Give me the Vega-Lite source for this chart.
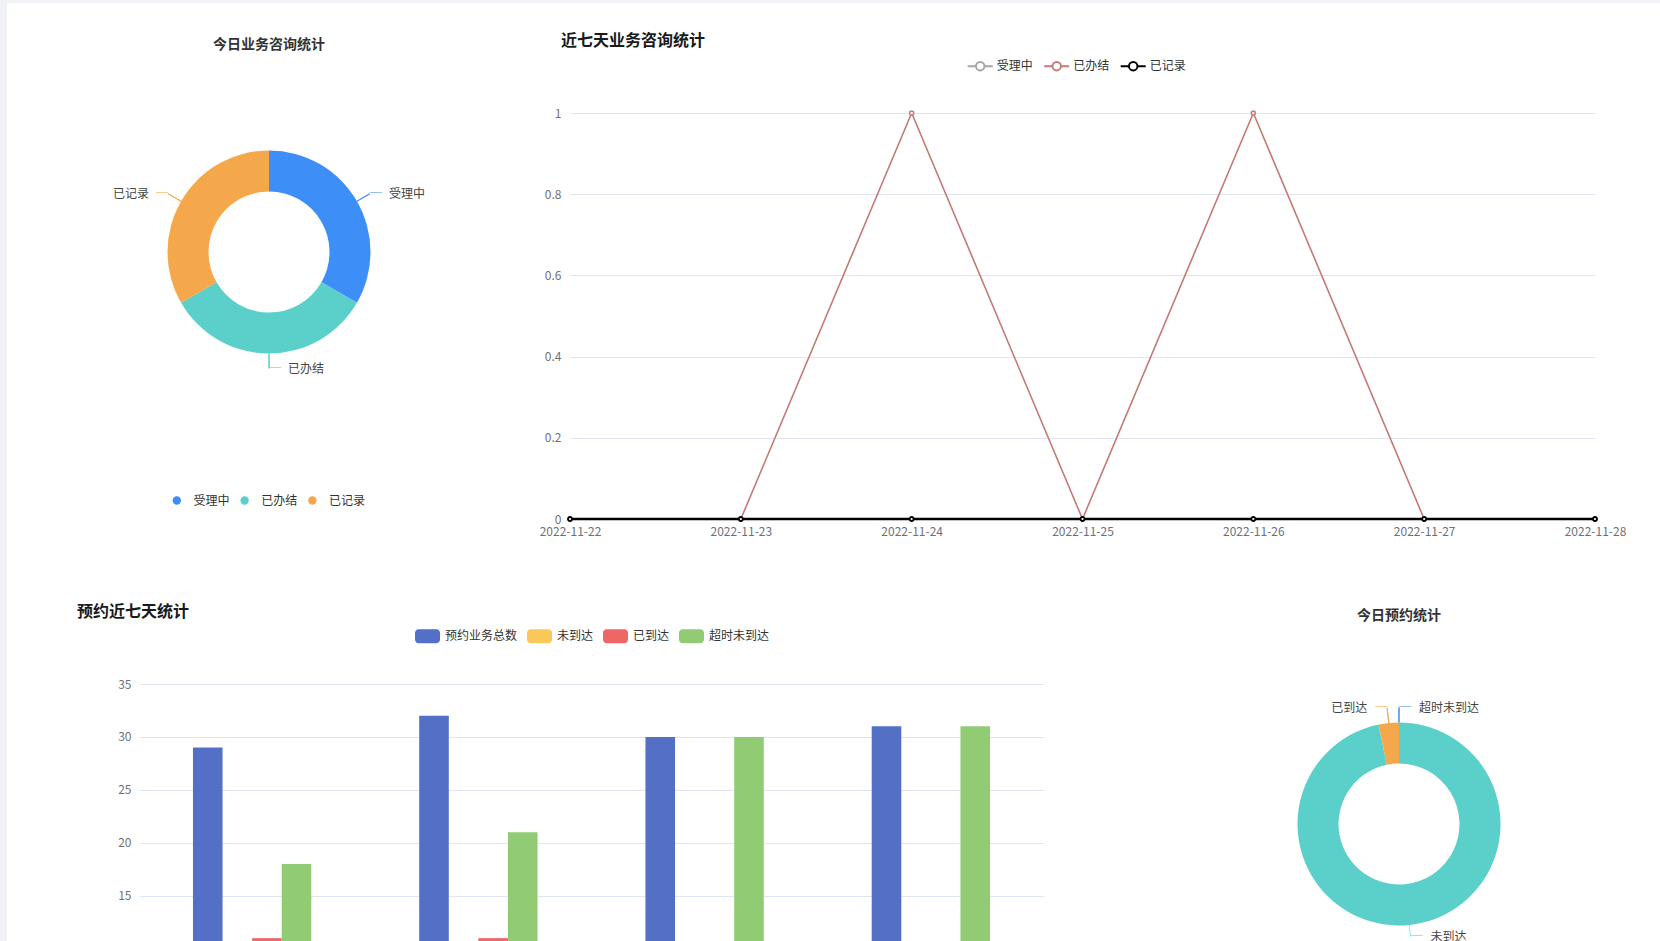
{
  "$schema": "https://vega.github.io/schema/vega-lite/v6.json",
  "background": "white",
  "padding": 0,
  "columns": 5,
  "spacing": 0,
  "align": "each",
  "bounds": "flush",
  "resolve": {
    "scale": {"color": "independent", "theta": "independent", "stroke": "independent", "fill": "independent", "xOffset": "independent"},
    "legend": {"color": "independent"}
  },
  "config": {
    "view": {"stroke": null},
    "font": "Noto Sans CJK SC",
    "axis": {"labelColor": "#6E7079", "labelFontSize": 12, "gridColor": "#E0E6F1", "ticks": false, "tickSize": 0, "domain": false},
    "legend": {"labelFontSize": 12, "labelColor": "#333333", "padding": 0, "title": null}
  },
  "concat": [
    {"width": 7, "height": 3, "view": {"fill": "#f0f2f5"}, "data": {"values": []}, "mark": {"type": "point", "opacity": 0}},
    {"width": 132, "height": 3, "view": {"fill": "#f0f2f5"}, "data": {"values": []}, "mark": {"type": "point", "opacity": 0}},
    {"width": 431, "height": 3, "view": {"fill": "#f0f2f5"}, "data": {"values": []}, "mark": {"type": "point", "opacity": 0}},
    {"width": 596, "height": 3, "view": {"fill": "#f0f2f5"}, "data": {"values": []}, "mark": {"type": "point", "opacity": 0}},
    {"width": 494, "height": 3, "view": {"fill": "#f0f2f5"}, "data": {"values": []}, "mark": {"type": "point", "opacity": 0}},

    {"width": 7, "height": 110, "view": {"fill": "#f0f2f5"}, "data": {"values": []}, "mark": {"type": "point", "opacity": 0}},
    {"width": 132, "height": 110, "data": {"values": []}, "mark": {"type": "point", "opacity": 0}},
    {"width": 1, "height": 1, "data": {"values": []}, "mark": {"type": "point", "opacity": 0}},
    {"width": 1, "height": 1, "data": {"values": []}, "mark": {"type": "point", "opacity": 0}},
    {"width": 1, "height": 1, "data": {"values": []}, "mark": {"type": "point", "opacity": 0}},

    {"width": 7, "height": 571, "view": {"fill": "#f0f2f5"}, "data": {"values": []}, "mark": {"type": "point", "opacity": 0}},
    {"width": 1, "height": 1, "data": {"values": []}, "mark": {"type": "point", "opacity": 0}},
    {
      "width": 260, "height": 278,
      "data": {"values": [
        {"状态": "受理中", "数量": 1, "序": 1},
        {"状态": "已办结", "数量": 1, "序": 2},
        {"状态": "已记录", "数量": 1, "序": 3}
      ]},
      "title": {"text": "今日业务咨询统计", "fontSize": 14, "fontWeight": "bold", "color": "#333333", "anchor": "middle", "frame": "group", "offset": 61.5},
      "encoding": {
        "theta": {"field": "数量", "type": "quantitative", "stack": true},
        "order": {"field": "序", "type": "quantitative"}
      },
      "layer": [
        {"mark": {"type": "arc", "radius": 101.5, "radius2": 60.5},
         "encoding": {"color": {"field": "状态", "type": "nominal",
           "scale": {"domain": ["受理中", "已办结", "已记录"], "range": ["#3e8ef7", "#5bcfc9", "#f5a84b"]},
           "legend": {"orient": "none", "legendX": 31.8, "legendY": 381.5, "direction": "horizontal", "symbolType": "circle", "symbolSize": 70, "symbolStrokeWidth": 0, "labelOffset": 10.6, "columnPadding": 8.8}}}},
        {"mark": {"type": "arc", "radius": 101.5, "radius2": 116.5, "padAngle": 3.14, "filled": false, "strokeWidth": 1},
         "encoding": {"stroke": {"field": "状态", "type": "nominal",
           "scale": {"domain": ["受理中", "已办结", "已记录"], "range": ["#3e8ef7", "#5bcfc9", "#f5a84b"]}, "legend": null}}},
        {"mark": {"type": "text", "radius": 116.5, "align": "left", "baseline": "middle", "fontSize": 12},
         "encoding": {
           "text": {"condition": {"test": "datum['状态'] != '已记录'", "value": "─"}, "value": ""},
           "fill": {"field": "状态", "type": "nominal", "scale": {"domain": ["受理中", "已办结", "已记录"], "range": ["#3e8ef7", "#5bcfc9", "#f5a84b"]}, "legend": null}}},
        {"mark": {"type": "text", "radius": 116.5, "align": "right", "baseline": "middle", "fontSize": 12},
         "encoding": {
           "text": {"condition": {"test": "datum['状态'] == '已记录'", "value": "─"}, "value": ""},
           "fill": {"field": "状态", "type": "nominal", "scale": {"domain": ["受理中", "已办结", "已记录"], "range": ["#3e8ef7", "#5bcfc9", "#f5a84b"]}, "legend": null}}},
        {"mark": {"type": "text", "radius": 116.5, "align": "left", "baseline": "middle", "dx": 19, "fontSize": 12, "color": "#444444"},
         "encoding": {"text": {"condition": {"test": "datum['状态'] != '已记录'", "field": "状态", "type": "nominal"}, "value": ""}}},
        {"mark": {"type": "text", "radius": 116.5, "align": "right", "baseline": "middle", "dx": -19, "fontSize": 12, "color": "#444444"},
         "encoding": {"text": {"condition": {"test": "datum['状态'] == '已记录'", "field": "状态", "type": "nominal"}, "value": ""}}}
      ]
    },
    {
      "width": 596, "height": 406,
      "data": {"values": [
        {"日期": "2022-11-22", "类型": "受理中", "数量": 0},
        {"日期": "2022-11-23", "类型": "受理中", "数量": 0},
        {"日期": "2022-11-24", "类型": "受理中", "数量": 0},
        {"日期": "2022-11-25", "类型": "受理中", "数量": 0},
        {"日期": "2022-11-26", "类型": "受理中", "数量": 0},
        {"日期": "2022-11-27", "类型": "受理中", "数量": 0},
        {"日期": "2022-11-28", "类型": "受理中", "数量": 0},
        {"日期": "2022-11-22", "类型": "已办结", "数量": 0},
        {"日期": "2022-11-23", "类型": "已办结", "数量": 0},
        {"日期": "2022-11-24", "类型": "已办结", "数量": 1},
        {"日期": "2022-11-25", "类型": "已办结", "数量": 0},
        {"日期": "2022-11-26", "类型": "已办结", "数量": 1},
        {"日期": "2022-11-27", "类型": "已办结", "数量": 0},
        {"日期": "2022-11-28", "类型": "已办结", "数量": 0},
        {"日期": "2022-11-22", "类型": "已记录", "数量": 0},
        {"日期": "2022-11-23", "类型": "已记录", "数量": 0},
        {"日期": "2022-11-24", "类型": "已记录", "数量": 0},
        {"日期": "2022-11-25", "类型": "已记录", "数量": 0},
        {"日期": "2022-11-26", "类型": "已记录", "数量": 0},
        {"日期": "2022-11-27", "类型": "已记录", "数量": 0},
        {"日期": "2022-11-28", "类型": "已记录", "数量": 0}
      ]},
      "title": {"text": "近七天业务咨询统计", "fontSize": 16, "fontWeight": "bold", "color": "#1a1a1a", "anchor": "start", "frame": "group", "dx": -9, "offset": 4},
      "encoding": {
        "x": {"field": "日期", "type": "ordinal", "scale": {"type": "point", "padding": 0, "range": [0, 1025]}, "axis": {"title": null, "labelAngle": 0, "labelPadding": 7, "grid": false}},
        "y": {"field": "数量", "type": "quantitative", "scale": {"domain": [0, 1], "nice": false}, "axis": {"title": null, "values": [0, 0.2, 0.4, 0.6, 0.8, 1], "format": "~g", "labelPadding": 9, "grid": true}},
        "color": {"field": "类型", "type": "nominal",
          "scale": {"domain": ["受理中", "已办结", "已记录"], "range": ["#a6a6a6", "#c47a76", "#000000"]},
          "legend": {"orient": "none", "legendX": 396.7, "legendY": -60.5, "direction": "horizontal",
            "symbolType": "M-1,0L-0.34,0M0.34,0L1,0M0.34,0A0.34,0.34,0,1,1,-0.34,0A0.34,0.34,0,1,1,0.34,0Z",
            "symbolSize": 625, "symbolStrokeWidth": 2, "labelOffset": 3, "columnPadding": 6.5,
            "encode": {"symbols": {"update": {"fill": {"value": "white"}, "strokeWidth": {"value": 2}}}}}}
      },
      "layer": [
        {"transform": [{"filter": "datum['类型'] == '受理中'"}],
         "mark": {"type": "line", "strokeWidth": 2, "point": {"filled": false, "fill": "white", "size": 16, "strokeWidth": 1.5}}},
        {"transform": [{"filter": "datum['类型'] == '已办结'"}],
         "mark": {"type": "line", "strokeWidth": 1.6, "point": {"filled": false, "fill": "white", "size": 16, "strokeWidth": 1.5}}},
        {"transform": [{"filter": "datum['类型'] == '已记录'"}],
         "mark": {"type": "line", "strokeWidth": 2.5, "point": {"filled": false, "fill": "white", "size": 16, "strokeWidth": 1.8}}}
      ]
    },
    {"width": 1, "height": 1, "data": {"values": []}, "mark": {"type": "point", "opacity": 0}},

    {"width": 7, "height": 257, "view": {"fill": "#f0f2f5"}, "data": {"values": []}, "mark": {"type": "point", "opacity": 0}},
    {"width": 1, "height": 1, "data": {"values": []}, "mark": {"type": "point", "opacity": 0}},
    {
      "width": 431, "height": 257,
      "data": {"values": [
        {"日期": "2022-11-25", "类型": "预约业务总数", "数量": 29},
        {"日期": "2022-11-25", "类型": "未到达", "数量": 0},
        {"日期": "2022-11-25", "类型": "已到达", "数量": 11},
        {"日期": "2022-11-25", "类型": "超时未到达", "数量": 18},
        {"日期": "2022-11-26", "类型": "预约业务总数", "数量": 32},
        {"日期": "2022-11-26", "类型": "未到达", "数量": 0},
        {"日期": "2022-11-26", "类型": "已到达", "数量": 11},
        {"日期": "2022-11-26", "类型": "超时未到达", "数量": 21},
        {"日期": "2022-11-27", "类型": "预约业务总数", "数量": 30},
        {"日期": "2022-11-27", "类型": "未到达", "数量": 0},
        {"日期": "2022-11-27", "类型": "已到达", "数量": 0},
        {"日期": "2022-11-27", "类型": "超时未到达", "数量": 30},
        {"日期": "2022-11-28", "类型": "预约业务总数", "数量": 31},
        {"日期": "2022-11-28", "类型": "未到达", "数量": 0},
        {"日期": "2022-11-28", "类型": "已到达", "数量": 0},
        {"日期": "2022-11-28", "类型": "超时未到达", "数量": 31}
      ]},
      "title": {"text": "预约近七天统计", "fontSize": 16, "fontWeight": "bold", "color": "#1a1a1a", "anchor": "start", "frame": "group", "dx": -62, "offset": 4},
      "mark": {"type": "bar"},
      "encoding": {
        "x": {"field": "日期", "type": "nominal", "sort": null, "scale": {"paddingInner": 0.477, "paddingOuter": 0.2385, "range": [0, 905]}, "axis": null},
        "xOffset": {"field": "类型", "type": "nominal", "scale": {"domain": ["预约业务总数", "未到达", "已到达", "超时未到达"], "paddingInner": 0, "paddingOuter": 0}},
        "y": {"field": "数量", "type": "quantitative", "scale": {"domain": [10.73, 35], "zero": false, "nice": false}, "axis": {"title": null, "values": [15, 20, 25, 30, 35], "labelPadding": 8, "grid": true}},
        "y2": {"datum": 10.73},
        "color": {"field": "类型", "type": "nominal",
          "scale": {"domain": ["预约业务总数", "未到达", "已到达", "超时未到达"], "range": ["#5470c6", "#fac858", "#ee6666", "#91cc75"]},
          "legend": {"orient": "none", "legendX": 276, "legendY": -60.5, "direction": "horizontal",
            "symbolType": "M-0.7,-0.56L0.7,-0.56A0.3,0.3,0,0,1,1,-0.26L1,0.26A0.3,0.3,0,0,1,0.7,0.56L-0.7,0.56A0.3,0.3,0,0,1,-1,0.26L-1,-0.26A0.3,0.3,0,0,1,-0.7,-0.56Z",
            "symbolSize": 625, "symbolStrokeWidth": 0, "labelOffset": 5, "columnPadding": 9}}
      }
    },
    {"width": 1, "height": 1, "data": {"values": []}, "mark": {"type": "point", "opacity": 0}},
    {
      "width": 466, "height": 257,
      "data": {"values": [
        {"状态": "超时未到达", "数量": 0, "序": 1},
        {"状态": "未到达", "数量": 30, "序": 2},
        {"状态": "已到达", "数量": 1, "序": 3}
      ]},
      "title": {"text": "今日预约统计", "fontSize": 14, "fontWeight": "bold", "color": "#333333", "anchor": "middle", "frame": "group", "offset": 60.8},
      "encoding": {
        "theta": {"field": "数量", "type": "quantitative", "stack": true},
        "order": {"field": "序", "type": "quantitative"}
      },
      "layer": [
        {"mark": {"type": "arc", "radius": 101.5, "radius2": 60.5, "yOffset": 11.5},
         "encoding": {"color": {"field": "状态", "type": "nominal",
           "scale": {"domain": ["超时未到达", "未到达", "已到达"], "range": ["#3e8ef7", "#5bcfc9", "#f5a84b"]}, "legend": null}}},
        {"mark": {"type": "arc", "radius": 101.5, "radius2": 116.5, "padAngle": 3.14, "filled": false, "strokeWidth": 1, "yOffset": 11.5},
         "encoding": {
           "stroke": {"field": "状态", "type": "nominal", "scale": {"domain": ["超时未到达", "未到达", "已到达"], "range": ["#3e8ef7", "#5bcfc9", "#f5a84b"]}, "legend": null},
           "strokeOpacity": {"condition": {"test": "datum['状态'] == '未到达'", "value": 0}, "value": 1}}},
        {"mark": {"type": "text", "radius": 108, "align": "center", "baseline": "middle", "fontSize": 13, "angle": -5.8, "color": "#5bcfc9", "clip": true, "yOffset": 11.5},
         "encoding": {"text": {"condition": {"test": "datum['状态'] == '未到达'", "value": "│"}, "value": ""}}},
        {"mark": {"type": "text", "radius": 116.5, "align": "left", "baseline": "middle", "fontSize": 12, "yOffset": 11.5},
         "encoding": {
           "text": {"condition": {"test": "datum['状态'] == '超时未到达'", "value": "─"}, "value": ""},
           "fill": {"field": "状态", "type": "nominal", "scale": {"domain": ["超时未到达", "未到达", "已到达"], "range": ["#3e8ef7", "#5bcfc9", "#f5a84b"]}, "legend": null}}},
        {"mark": {"type": "text", "radius": 116.5, "align": "right", "baseline": "middle", "fontSize": 12, "yOffset": 11.5},
         "encoding": {
           "text": {"condition": {"test": "datum['状态'] == '已到达'", "value": "─"}, "value": ""},
           "fill": {"field": "状态", "type": "nominal", "scale": {"domain": ["超时未到达", "未到达", "已到达"], "range": ["#3e8ef7", "#5bcfc9", "#f5a84b"]}, "legend": null}}},
        {"mark": {"type": "text", "radius": 114, "align": "left", "baseline": "middle", "fontSize": 12, "clip": true, "yOffset": 11.5},
         "encoding": {
           "text": {"condition": {"test": "datum['状态'] == '未到达'", "value": "─"}, "value": ""},
           "fill": {"field": "状态", "type": "nominal", "scale": {"domain": ["超时未到达", "未到达", "已到达"], "range": ["#3e8ef7", "#5bcfc9", "#f5a84b"]}, "legend": null}}},
        {"mark": {"type": "text", "radius": 116.5, "align": "left", "baseline": "middle", "dx": 20, "fontSize": 12, "color": "#444444", "yOffset": 11.5},
         "encoding": {"text": {"condition": {"test": "datum['状态'] == '超时未到达'", "field": "状态", "type": "nominal"}, "value": ""}}},
        {"mark": {"type": "text", "radius": 116.5, "align": "right", "baseline": "middle", "dx": -20, "fontSize": 12, "color": "#444444", "yOffset": 11.5},
         "encoding": {"text": {"condition": {"test": "datum['状态'] == '已到达'", "field": "状态", "type": "nominal"}, "value": ""}}},
        {"mark": {"type": "text", "radius": 114, "align": "left", "baseline": "middle", "dx": 20, "fontSize": 12, "color": "#444444", "clip": true, "yOffset": 11.5},
         "encoding": {"text": {"condition": {"test": "datum['状态'] == '未到达'", "field": "状态", "type": "nominal"}, "value": ""}}}
      ]
    }
  ]
}
